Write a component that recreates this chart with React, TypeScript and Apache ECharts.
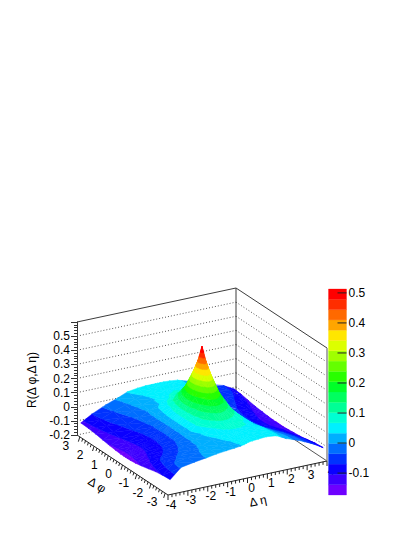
import React, { useEffect, useRef } from "react";
import * as echarts from "echarts";

const etaNodes = [-3.85, -3.3, -2.6, -2, -1.5, -1, -0.6, -0.3, -0.12, 0, 0.12, 0.3, 0.6, 1, 1.5, 2, 2.6, 3.3, 3.85];
const phiNodes = [-3.14, -2.6, -2.1, -1.6, -1.1, -0.7, -0.35, -0.12, 0, 0.12, 0.35, 0.7, 1.1, 1.6, 2.1, 2.6, 3.14];
// R(dphi, deta), one row per phi node
const zRows = [
  [-0.1, -0.03, -0.012, 0, 0.012, 0.02, 0.026, 0.031, 0.036, 0.042, 0.047, 0.05, 0.054, 0.058, 0.05, 0.015, -0.015, -0.06, -0.105],
  [-0.104, -0.037, -0.018, -0.002, 0.013, 0.018, 0.028, 0.036, 0.044, 0.05, 0.055, 0.057, 0.06, 0.06, 0.048, 0.011, -0.021, -0.066, -0.11],
  [-0.112, -0.051, -0.03, -0.011, 0.008, 0.024, 0.04, 0.05, 0.056, 0.061, 0.062, 0.063, 0.063, 0.059, 0.041, 0.001, -0.034, -0.078, -0.12],
  [-0.125, -0.072, -0.046, -0.021, 0.009, 0.04, 0.07, 0.09, 0.095, 0.097, 0.096, 0.09, 0.08, 0.062, 0.028, -0.014, -0.05, -0.09, -0.13],
  [-0.137, -0.094, -0.064, -0.032, 0.012, 0.08, 0.12, 0.145, 0.155, 0.16, 0.155, 0.145, 0.12, 0.085, 0.02, -0.028, -0.068, -0.1, -0.135],
  [-0.145, -0.106, -0.075, -0.04, 0.011, 0.085, 0.155, 0.215, 0.24, 0.245, 0.24, 0.215, 0.155, 0.09, 0.016, -0.038, -0.079, -0.11, -0.14],
  [-0.149, -0.113, -0.08, -0.041, 0.013, 0.088, 0.2, 0.295, 0.35, 0.365, 0.35, 0.295, 0.2, 0.095, 0.014, -0.041, -0.085, -0.114, -0.142],
  [-0.15, -0.115, -0.082, -0.043, 0.012, 0.09, 0.215, 0.34, 0.415, 0.45, 0.415, 0.34, 0.215, 0.1, 0.013, -0.043, -0.087, -0.115, -0.142],
  [-0.15, -0.115, -0.082, -0.043, 0.012, 0.09, 0.215, 0.345, 0.44, 0.52, 0.44, 0.345, 0.215, 0.1, 0.013, -0.043, -0.087, -0.115, -0.142],
  [-0.15, -0.115, -0.082, -0.043, 0.012, 0.09, 0.215, 0.34, 0.415, 0.45, 0.415, 0.34, 0.215, 0.1, 0.013, -0.043, -0.087, -0.115, -0.142],
  [-0.15, -0.114, -0.08, -0.041, 0.012, 0.085, 0.198, 0.29, 0.345, 0.36, 0.345, 0.29, 0.195, 0.09, 0.011, -0.042, -0.085, -0.114, -0.142],
  [-0.146, -0.11, -0.076, -0.039, 0.012, 0.072, 0.15, 0.21, 0.235, 0.24, 0.235, 0.21, 0.15, 0.08, 0.01, -0.04, -0.081, -0.11, -0.14],
  [-0.141, -0.104, -0.067, -0.033, 0.01, 0.06, 0.1, 0.125, 0.14, 0.145, 0.14, 0.125, 0.1, 0.065, 0.01, -0.034, -0.073, -0.105, -0.135],
  [-0.133, -0.093, -0.058, -0.028, 0.004, 0.033, 0.06, 0.08, 0.083, 0.083, 0.083, 0.08, 0.068, 0.051, 0.013, -0.024, -0.06, -0.092, -0.13],
  [-0.124, -0.083, -0.048, -0.018, 0.012, 0.028, 0.042, 0.055, 0.06, 0.065, 0.065, 0.063, 0.059, 0.047, 0.018, -0.015, -0.049, -0.078, -0.12],
  [-0.118, -0.076, -0.036, -0.008, 0.022, 0.036, 0.045, 0.052, 0.055, 0.058, 0.058, 0.057, 0.054, 0.045, 0.021, -0.008, -0.04, -0.068, -0.11],
  [-0.115, -0.07, -0.025, 0.005, 0.035, 0.045, 0.05, 0.05, 0.05, 0.05, 0.05, 0.05, 0.048, 0.042, 0.02, -0.005, -0.035, -0.065, -0.105],
];

const palette = [
  "#6e00ff", "#3c00ff", "#0a00ff", "#0032ff", "#006eff", "#00afff", "#00f0ff", "#00ffd2", "#00ff96", "#00ff5f",
  "#00ff28", "#28ff00", "#64ff00", "#a0ff00", "#dcff00", "#ffe600", "#ffa500", "#ff6900", "#ff2d00", "#ff0000",
];
const contourMin = -0.173;
const contourMax = 0.513;

const etaTicks = [-4, -3, -2, -1, 0, 1, 2, 3, 4];
const phiTicks = [-3, -2, -1, 0, 1, 2, 3];
const zTicks = [-0.2, -0.1, 0, 0.1, 0.2, 0.3, 0.4, 0.5];
const barTicks = [-0.1, 0, 0.1, 0.2, 0.3, 0.4, 0.5];

const FONT = "12px 'Liberation Sans', Arial, sans-serif";
const lm = echarts.number.linearMap;

function project(eta: number, phi: number, z: number, api: any) {
  const u = lm(eta, [-4, 4], [0, 1], false);
  const v = lm(phi, [-3.2, 3.2], [0, 1], false);
  const h = lm(z, [-0.2, 0.6], [0, 113], false);
  return api.coord([168 + 159 * u - 91 * v, 495 - 34 * u - 60 * v - h]);
}

type V = [number, number, number];
function clip(poly: V[], level: number, keepAbove: boolean): V[] {
  const out: V[] = [];
  for (let i = 0; i < poly.length; i++) {
    const a = poly[i];
    const b = poly[(i + 1) % poly.length];
    const ina = keepAbove ? a[2] >= level : a[2] <= level;
    const inb = keepAbove ? b[2] >= level : b[2] <= level;
    if (ina) out.push(a);
    if (ina !== inb) {
      const t = (level - a[2]) / (b[2] - a[2]);
      out.push([a[0] + (b[0] - a[0]) * t, a[1] + (b[1] - a[1]) * t, level]);
    }
  }
  return out;
}

const step = (contourMax - contourMin) / palette.length;

function bandPolys(tri: V[], api: any) {
  const children: any[] = [];
  palette.forEach((color, k) => {
    const lo = k === 0 ? -10 : contourMin + k * step;
    const hi = k === palette.length - 1 ? 10 : contourMin + (k + 1) * step;
    let p = clip(tri, lo, true);
    if (p.length) p = clip(p, hi, false);
    if (p.length >= 3) {
      children.push({
        type: "polygon",
        silent: true,
        shape: { points: p.map((q) => project(q[0], q[1], q[2], api)) },
        style: { fill: color, stroke: color, lineWidth: 0.5 },
      });
    }
  });
  return children;
}

function renderCell(_: any, api: any) {
  const i = api.value(0);
  const j = api.value(1);
  const a: V = [etaNodes[i], phiNodes[j], zRows[j][i]];
  const b: V = [etaNodes[i + 1], phiNodes[j], zRows[j][i + 1]];
  const c: V = [etaNodes[i + 1], phiNodes[j + 1], zRows[j + 1][i + 1]];
  const d: V = [etaNodes[i], phiNodes[j + 1], zRows[j + 1][i]];
  return {
    type: "group",
    children: [...bandPolys([d, c, b], api), ...bandPolys([d, b, a], api)],
  };
}

function seg(p: number[], q: number[], stroke: string, lineWidth = 1, lineDash?: number[]) {
  return {
    type: "line",
    silent: true,
    shape: { x1: p[0], y1: p[1], x2: q[0], y2: q[1] },
    style: { stroke, lineWidth, lineDash },
  };
}
function label(text: string, x: number, y: number, rotation = 0, font = FONT) {
  return {
    type: "text",
    x,
    y,
    rotation,
    style: { text, x: 0, y: 0, fill: "#000", font, textAlign: "center", textVerticalAlign: "middle", verticalAlign: "middle" },
  };
}

function renderWalls(_: any, api: any) {
  const E = 4;
  const P = 3.2;
  const B = -0.2;
  const T = 0.6;
  const pr = (e: number, p: number, z: number) => project(e, p, z, api);
  const out: any[] = [];
  const dark = "#3c3c3c";
  zTicks.slice(1).forEach((z) => {
    out.push(seg(pr(-E, P, z), pr(E, P, z), "#555", 1, [1, 2]));
    out.push(seg(pr(E, P, z), pr(E, -P, z), "#555", 1, [1, 2]));
  });
  out.push(seg(pr(-E, P, B), pr(E, P, B), "#555", 1, [1, 2]));
  out.push(seg(pr(E, P, B), pr(E, -P, B), "#555", 1));
  out.push(seg(pr(-E, P, T), pr(E, P, T), dark));
  out.push(seg(pr(E, P, T), pr(E, -P, T), dark));
  out.push(seg(pr(E, P, B), pr(E, P, T), dark));
  out.push(seg(pr(E, -P, B), pr(E, -P, T), "#aaa", 2));
  return { type: "group", children: out };
}

function renderFloor(_: any, api: any) {
  const E = 4;
  const P = 3.2;
  const B = -0.2;
  const pr = (e: number, p: number, z: number) => project(e, p, z, api);
  const out: any[] = [];
  const dark = "#222";
  out.push(seg(pr(-E, P, B), pr(-E, -P, B), dark));
  out.push(seg(pr(-E, -P, B), pr(E, -P, B), dark));
  for (let k = 0; k <= 40; k++) {
    const e = -4 + k * 0.2;
    const s = pr(e, -P, B);
    out.push(seg(s, [s[0], s[1] + (k % 5 === 0 ? 5 : 3)], dark));
  }
  for (let k = -15; k <= 15; k++) {
    const f = k * 0.2;
    const s = pr(-E, f, B);
    const len = k % 5 === 0 ? 5 : 3;
    out.push(seg(s, [s[0] - len * 0.3, s[1] + len * 0.95], dark));
  }
  etaTicks.forEach((t) => {
    const s = pr(t, -P, B);
    out.push(label(String(t), s[0] + (t < 0 ? 3 : 4), s[1] + 9.5));
  });
  phiTicks.forEach((t) => {
    const s = pr(-E, t, B);
    out.push(label(String(t), s[0] - (t < 0 ? 13 : 14), s[1] + 9));
  });
  out.push(label("\u0394 \u03b7", 258, 501, 0.2));
  out.push(label("\u0394 \u03c6", 97, 485, -0.55));
  out.push(label("R(\u0394 \u03c6,\u0394 \u03b7)", 32, 380, Math.PI / 2));
  return { type: "group", children: out };
}

function renderBand(_: any, api: any) {
  const k = api.value(0);
  const lo = contourMin + k * step;
  const hi = lo + step;
  const p = api.coord([0, lo]);
  const q = api.coord([1, hi]);
  return {
    type: "rect",
    silent: true,
    shape: { x: p[0], y: q[1], width: q[0] - p[0], height: p[1] - q[1] },
    style: { fill: palette[k], stroke: palette[k], lineWidth: 0.3 },
  };
}

function renderBarTick(_: any, api: any) {
  const v = api.value(0);
  const p = api.coord([0.5, v]);
  const q = api.coord([1, v]);
  return seg(p, q, "#222");
}

export default function App() {
  const ref = useRef<HTMLDivElement>(null);
  useEffect(() => {
    document.body.style.margin = "0";
    const chart = echarts.init(ref.current!, undefined, { renderer: "svg" });
    const cells: number[][] = [];
    for (let j = phiNodes.length - 2; j >= 0; j--) {
      for (let i = etaNodes.length - 2; i >= 0; i--) cells.push([i, j]);
    }
    const hidden = { show: false };
    chart.setOption({
      animation: false,
      backgroundColor: "#fff",
      grid: [
        { left: 77, top: 322, width: 158, height: 113 },
        { left: 328.5, top: 289, width: 18, height: 206 },
        { left: 0, top: 0, width: 415, height: 537 },
      ],
      xAxis: [
        { gridIndex: 0, type: "value", ...hidden, min: 0, max: 1 },
        { gridIndex: 1, type: "value", ...hidden, min: 0, max: 1 },
        { gridIndex: 2, type: "value", ...hidden, min: 0, max: 415 },
      ],
      yAxis: [
        {
          gridIndex: 0,
          type: "value",
          min: -0.2,
          max: 0.6,
          interval: 0.1,
          position: "left",
          axisLine: { show: true, lineStyle: { color: "#333", width: 1 } },
          axisTick: { show: true, length: 6, lineStyle: { color: "#333" } },
          minorTick: { show: true, splitNumber: 5, length: 3, lineStyle: { color: "#333" } },
          splitLine: { show: false },
          axisLabel: {
            color: "#000",
            margin: 7,
            fontFamily: "Liberation Sans",
            fontSize: 12,
            showMaxLabel: false,
            formatter: (v: number) => String(Math.round(v * 10) / 10),
          },
        },
        {
          gridIndex: 1,
          type: "value",
          min: contourMin,
          max: contourMax,
          position: "right",
          axisLine: { show: false },
          axisTick: { show: false },
          splitLine: { show: false },
          axisLabel: {
            color: "#000",
            margin: 2,
            fontFamily: "Liberation Sans",
            fontSize: 12,
            customValues: barTicks,
            formatter: (v: number) => String(Math.round(v * 10) / 10),
          },
        },
        { gridIndex: 2, type: "value", ...hidden, min: 0, max: 537, inverse: true },
      ],
      series: [
        { type: "custom", xAxisIndex: 2, yAxisIndex: 2, z: 1, silent: true, clip: false, data: [[0, 0]], renderItem: renderWalls },
        { type: "custom", xAxisIndex: 2, yAxisIndex: 2, z: 2, silent: true, clip: false, data: [[0, 0]], renderItem: renderFloor },
        { type: "custom", xAxisIndex: 2, yAxisIndex: 2, z: 3, silent: true, clip: false, data: cells, renderItem: renderCell },
        { type: "custom", xAxisIndex: 1, yAxisIndex: 1, z: 4, silent: true, data: palette.map((_, k) => [k]), encode: { x: [], y: [] }, renderItem: renderBand },
        { type: "custom", xAxisIndex: 1, yAxisIndex: 1, z: 5, silent: true, data: barTicks.map((t) => [t]), encode: { x: [], y: [] }, renderItem: renderBarTick },
      ],
    });
    return () => chart.dispose();
  }, []);
  return <div ref={ref} style={{ position: "fixed", left: 0, top: 0, width: 415, height: 537 }} />;
}
